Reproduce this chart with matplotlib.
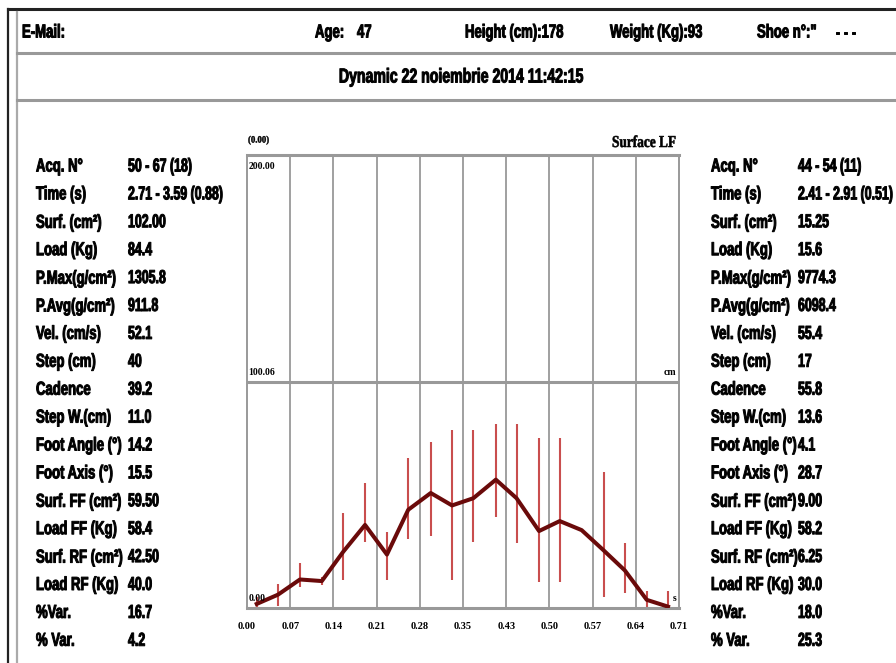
import matplotlib
matplotlib.use("Agg")
import matplotlib.pyplot as plt
from matplotlib.lines import Line2D
from matplotlib.patheffects import AbstractPathEffect
from matplotlib.transforms import Affine2D

# Patient header
header_items = [("E-Mail:", 22), ("Age:", 315), ("47", 357), ("Height (cm):178", 465),
                ("Weight (Kg):93", 610), ("Shoe n°:\"", 757), ("- - -", 835)]
title = "Dynamic 22 noiembrie 2014 11:42:15"

# Parameter table (same rows for both feet)
row_labels = ["Acq. N°", "Time (s)", "Surf. (cm²)", "Load (Kg)", "P.Max(g/cm²)",
              "P.Avg(g/cm²)", "Vel. (cm/s)", "Step (cm)", "Cadence", "Step W.(cm)",
              "Foot Angle (°)", "Foot Axis (°)", "Surf. FF (cm²)", "Load FF (Kg)",
              "Surf. RF (cm²)", "Load RF (Kg)", "%Var.", "% Var."]
left_values = ["50 - 67 (18)", "2.71 - 3.59 (0.88)", "102.00", "84.4", "1305.8",
               "911.8", "52.1", "40", "39.2", "11.0", "14.2", "15.5", "59.50",
               "58.4", "42.50", "40.0", "16.7", "4.2"]
right_values = ["44 - 54 (11)", "2.41 - 2.91 (0.51)", "15.25", "15.6", "9774.3",
                "6098.4", "55.4", "17", "55.8", "13.6", "4.1", "28.7", "9.00",
                "58.2", "6.25", "30.0", "18.0", "25.3"]

# Surface LF curve (cm² vs s) with min/max range per sample
time_s = [0.016, 0.051, 0.087, 0.123, 0.158, 0.194, 0.230, 0.265, 0.302, 0.337,
          0.372, 0.409, 0.443, 0.480, 0.514, 0.550, 0.586, 0.621, 0.657, 0.692]
surface = [1.8, 5.9, 12.6, 11.9, 24.8, 36.7, 23.6, 43.4, 50.8, 45.3,
           48.5, 56.7, 48.5, 34.0, 38.4, 34.4, 25.5, 16.6, 3.6, 0.6]
surf_low = [0.0, 1.0, 9.2, 10.0, 12.2, 29.2, 12.2, 30.7, 31.8, 12.2,
            29.2, 40.4, 28.5, 11.4, 11.4, 34.4, 5.0, 6.5, 0.0, 0.0]
surf_high = [4.8, 10.7, 19.9, 13.7, 41.9, 55.2, 33.7, 66.4, 73.3, 78.5,
             78.5, 81.5, 81.5, 75.3, 75.3, 34.4, 60.0, 28.8, 7.7, 7.7]
x_ticks = [0.0, 0.071, 0.142, 0.213, 0.284, 0.355, 0.426, 0.497, 0.568, 0.639, 0.71]
x_tick_labels = ["0.00", "0.07", "0.14", "0.21", "0.28", "0.35", "0.43",
                 "0.50", "0.57", "0.64", "0.71"]
y_max = 200.12
y_mid = 100.06

W, H = 896, 663
fig = plt.figure(figsize=(W / 100, H / 100), dpi=100)
fig.patch.set_facecolor("white")

SANS = ["Liberation Sans", "DejaVu Sans"]
SERIF = ["Liberation Serif", "DejaVu Serif"]


class Squeeze(AbstractPathEffect):
    """Narrow the glyphs horizontally around a fixed x (display pixels),
    with a thin outline to make the strokes heavier."""

    def __init__(self, x0, sx, stroke=0.7):
        super().__init__()
        self.x0 = x0
        self.sx = sx
        self.stroke = stroke

    def draw_path(self, renderer, gc, tpath, affine, rgbFace=None):
        squeeze = Affine2D().translate(-self.x0, 0).scale(self.sx, 1).translate(self.x0, 0)
        gc0 = renderer.new_gc()
        gc0.copy_properties(gc)
        gc0.set_linewidth(self.stroke)
        gc0.set_foreground(rgbFace if rgbFace is not None else "black")
        renderer.draw_path(gc0, tpath, affine + squeeze, rgbFace)
        gc0.restore()


def fx(px):
    return px / W


def fy(py):
    return 1 - py / H


def txt(x, y, s, size=13.5, ha="left", family=SANS, sx=0.7, stroke=0.7):
    fig.text(fx(x), fy(y), s, fontsize=size, ha=ha, va="center",
             family=family, weight="bold", path_effects=[Squeeze(x, sx, stroke)])


# frame lines
fig.add_artist(Line2D([fx(8), 1], [fy(9), fy(9)], color="#222222", lw=2.2))
fig.add_artist(Line2D([fx(8), fx(8)], [0, fy(9)], color="#222222", lw=1.6))
fig.add_artist(Line2D([fx(17), fx(17)], [0, fy(12)], color="#aaaaaa", lw=1.6))
for yy in (53, 100):
    fig.add_artist(Line2D([fx(17), 1], [fy(yy), fy(yy)], color="#999999", lw=2.2))

for s, x in header_items:
    txt(x, 33, s, size=13.5)
txt(461, 77, title, size=14.5, ha="center")

# parameter columns
for i, lab in enumerate(row_labels):
    y = 167 + i * 27.9
    txt(36, y, lab, size=13.5, sx=0.7)
    txt(128, y, left_values[i], size=13.5, sx=0.66)
    txt(711, y, lab, size=13.5, sx=0.7)
    txt(798, y, right_values[i], size=13.5, sx=0.66)

# chart
ax = fig.add_axes([fx(247), 1 - 608 / H, 432 / W, 453 / H])
ax.set_xlim(0, 0.71)
ax.set_ylim(0, y_max)
ax.set_xticks(x_ticks)
ax.set_xticklabels(x_tick_labels, family=SERIF, weight="bold", fontsize=7.5)
ax.set_yticks([])
ax.tick_params(axis="x", length=0, pad=10)
for sp in ax.spines.values():
    sp.set_color("#999999")
    sp.set_linewidth(1.4)
ax.spines["top"].set_linewidth(2.2)
ax.spines["bottom"].set_linewidth(2.2)
for xt in x_ticks[1:-1]:
    ax.axvline(xt, color="#999999", lw=1.3, zorder=1)
ax.axhline(y_mid, color="#999999", lw=2.2, zorder=1)

ax.vlines(time_s, surf_low, surf_high, color="#c43b3b", lw=1.5, alpha=0.9, zorder=2)
ax.plot(time_s, surface, color="#6a0a0a", lw=2.9, zorder=3,
        solid_joinstyle="round")

lab_kw = dict(family=SERIF, weight="bold", fontsize=7, transform=ax.transData)
ax.text(0.002, y_max - 3, "200.00", va="top", **lab_kw)
ax.text(0.002, y_mid + 2, "100.06", va="bottom", **lab_kw)
ax.text(0.002, 2, "0.00", va="bottom", **lab_kw)
ax.text(0.705, y_mid + 2, "cm", va="bottom", ha="right", **lab_kw)
ax.text(0.706, 2, "s", va="bottom", ha="right", **lab_kw)

txt(248, 140, "(0.00)", size=7, family=SERIF, sx=0.9, stroke=0.3)
txt(612, 143, "Surface LF", size=12, family=SERIF, sx=0.8, stroke=0.4)

fig.savefig("out.png", dpi=100, facecolor="white")
